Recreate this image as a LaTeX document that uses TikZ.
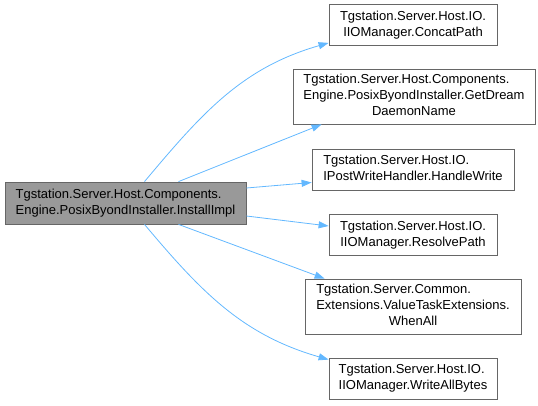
\documentclass[tikz,border=0pt]{standalone}
\usepackage{fontspec}
\setmainfont{Liberation Sans}
\usepackage{tikz}
\usetikzlibrary{arrows.meta}
\definecolor{edgeblue}{HTML}{63B8FF}
\definecolor{boxgray}{HTML}{666666}
\definecolor{mainfill}{HTML}{999999}
% label lines: left aligned, the last one centred
\newcommand{\lbl}[1]{\begin{tabular}{@{}l@{}}#1\end{tabular}}
\newcommand{\lastln}[1]{\multicolumn{1}{@{}c@{}}{#1}}
\tikzset{
  fnode/.style = {rectangle, draw=boxgray, fill=white, inner sep=0pt,
    font=\fontsize{13}{16}\selectfont, line width=0.8pt},
  fn_main/.style = {fnode, fill=mainfill, minimum height=42pt},% the caller
  fn_two/.style = {fnode, minimum height=41pt},% two lines
  fn_three/.style = {fnode, minimum height=55pt},% three lines
  call/.style = {->, draw=edgeblue, line width=0.8pt}
}

\begin{document}
\begin{tikzpicture}[x=1pt,y=1pt,>={Triangle[length=10pt,width=7pt]}]
\useasboundingbox (0,0) rectangle (538,405);

\node [fn_main, minimum width=241pt] (impl) at (125.5,202)
  {\lbl{Tgstation.Server.Host.Components.\\\lastln{Engine.PosixByondInstaller.InstallImpl}}};

\node [fn_two, minimum width=168pt] (concat) at (413,380)
  {\lbl{Tgstation.Server.Host.IO.\\\lastln{IIOManager.ConcatPath}}};
\node [fn_three, minimum width=242pt] (dream) at (414,308.5)
  {\lbl{Tgstation.Server.Host.Components.\\Engine.PosixByondInstaller.GetDream\\\lastln{DaemonName}}};
\node [fn_two, minimum width=202pt] (write) at (413,235.5)
  {\lbl{Tgstation.Server.Host.IO.\\\lastln{IPostWriteHandler.HandleWrite}}};
\node [fn_two, minimum width=168pt] (resolve) at (413,170)
  {\lbl{Tgstation.Server.Host.IO.\\\lastln{IIOManager.ResolvePath}}};
\node [fn_three, minimum width=216pt] (whenall) at (413,98.5)
  {\lbl{Tgstation.Server.Common.\\Extensions.ValueTaskExtensions.\\\lastln{WhenAll}}};
\node [fn_two, minimum width=168pt] (bytes) at (413,26.5)
  {\lbl{Tgstation.Server.Host.IO.\\\lastln{IIOManager.WriteAllBytes}}};

\draw [call] ([xshift=19pt]impl.north) to[out=50,in=196] ([yshift=3pt]concat.south west);
\draw [call] ([xshift=53pt]impl.north) -- ([xshift=29pt]dream.south west);
\draw [call] ([yshift=15pt]impl.east) -- ([yshift=-13pt]write.west);
\draw [call] ([yshift=-13pt]impl.east) -- ([yshift=9pt]resolve.west);
\draw [call] ([xshift=53pt]impl.south) -- ([xshift=20pt]whenall.north west);
\draw [call] ([xshift=19pt]impl.south) to[out=-50,in=164] ([yshift=-2pt]bytes.north west);
\end{tikzpicture}
\end{document}
